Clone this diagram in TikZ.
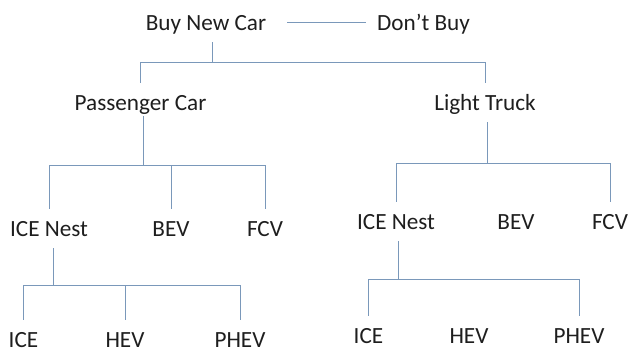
\documentclass[tikz,border=0pt]{standalone}
\usepackage{fontspec}
\setmainfont{Carlito}
\definecolor{lnblue}{RGB}{122,152,186}
\definecolor{txtgray}{RGB}{30,30,30}

\begin{document}
\begin{tikzpicture}[x=1pt,y=-1pt,
    lbl/.style={font=\fontsize{23.2}{27}\selectfont,text=txtgray,anchor=base,inner xsep=0pt,inner ysep=12pt,text height=14.9pt,text depth=0pt},
    conn/.style={draw=lnblue,line width=0.9pt}]
    \useasboundingbox (0,0) rectangle (631,348);
    \node[lbl] (buy) at (206,30) {Buy New Car};
    \node[lbl] (dont) at (423.5,30) {Don't Buy};
    \node[lbl] (pcar) at (140.5,110) {Passenger Car};
    \node[lbl] (ltruck) at (485,110) {Light Truck};
    \node[lbl] (pnest) at (49,236) {ICE Nest};
    \node[lbl] (pbev) at (171,236) {BEV};
    \node[lbl] (pfcv) at (265,236) {FCV};
    \node[lbl] (tnest) at (396,229) {ICE Nest};
    \node[lbl] (tbev) at (516,229) {BEV};
    \node[lbl] (tfcv) at (610,229) {FCV};
    \node[lbl] (pice) at (23.5,347.5) {ICE};
    \node[lbl] (phev) at (125,347.5) {HEV};
    \node[lbl] (pphev) at (240,347.5) {PHEV};
    \node[lbl] (tice) at (368.5,343) {ICE};
    \node[lbl] (thev) at (469,343) {HEV};
    \node[lbl] (tphev) at (579,343) {PHEV};
    \coordinate (jbuy) at (212,62);
    \coordinate (jpcar) at (143,165);
    \coordinate (jtruck) at (487,163);
    \coordinate (jpnest) at (53,285);
    \coordinate (jtnest) at (398,279);
    \draw[conn] ([xshift=21pt]buy.east) -- ([xshift=-11pt]dont.west);
    \draw[conn] (buy.south -| jbuy) -- (jbuy) -| (pcar.north);
    \draw[conn] (jbuy) -| (ltruck.north);
    \draw[conn,shorten <=-6pt] (pcar.south -| jpcar) -- (jpcar) -| (pnest.north);
    \foreach \c in {pbev,pfcv}
      \draw[conn] (jpcar) -| (\c.north);
    \draw[conn] (ltruck.south -| jtruck) -- (jtruck) -| (tnest.north);
    \draw[conn] (jtruck) -| (tfcv.north);
    \draw[conn] (pnest.south -| jpnest) -- (jpnest) -| (pice.north);
    \foreach \c in {phev,pphev}
      \draw[conn] (jpnest) -| (\c.north);
    \draw[conn] (tnest.south -| jtnest) -- (jtnest) -| (tice.north);
    \draw[conn] (jtnest) -| (tphev.north);
  \end{tikzpicture}
\end{document}
